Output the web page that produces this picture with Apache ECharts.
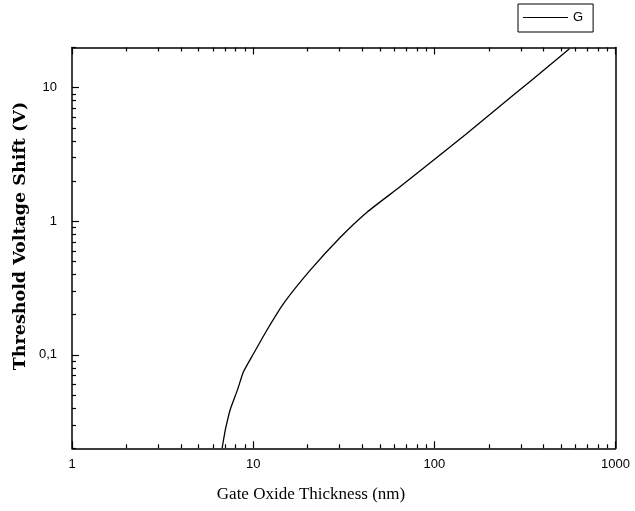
<!DOCTYPE html>
<html>
<head>
<meta charset="utf-8">
<script src="https://cdn.jsdelivr.net/npm/echarts@6/dist/echarts.min.js"></script>
<style>html,body{margin:0;padding:0;background:#fff}#c{width:635px;height:511px}</style>
</head>
<body>
<div id="c"></div>
<script>
// Data (x: gate oxide thickness in nm, y: threshold voltage shift in V)
var thickness = [6.74, 7.0, 7.16, 7.46, 8.2, 8.84, 10.04, 11.9, 14.7, 20.6, 30.3, 42.5, 64.9, 100, 150, 222, 339, 557];
var shift     = [0.0201, 0.027, 0.031, 0.0387, 0.055, 0.0747, 0.102, 0.153, 0.242, 0.429, 0.76, 1.17, 1.82, 2.9, 4.5, 7.0, 11.2, 19.6];
var xMajorTicks = [1, 10, 100, 1000];
var xMinorTicks = [2,3,4,5,6,7,8,9,20,30,40,50,60,70,80,90,200,300,400,500,600,700,800,900];
var yMajorTicks = [0.1, 1, 10];
var yMinorTicks = [0.02,0.03,0.04,0.05,0.06,0.07,0.08,0.09,0.2,0.3,0.4,0.5,0.6,0.7,0.8,0.9,2,3,4,5,6,7,8,9,20];
var seriesName = 'G';
var xTitle = 'Gate Oxide Thickness (nm)';
var yTitle = 'Threshold Voltage Shift (V)';

var points = thickness.map(function (x, i) { return [x, shift[i]]; });
var labelFont = { fontFamily: 'Liberation Sans', fontSize: 13, color: '#000' };

function xAxisDef(pos, ticks, len, showLabel, showLine) {
  return {
    type: 'log', logBase: 10, min: 1, max: 1000, position: pos,
    axisLine: { show: showLine, onZero: false, lineStyle: { color: '#000', width: 1.5 } },
    axisTick: { show: true, inside: true, length: len, customValues: ticks, lineStyle: { color: '#000', width: 1.2 } },
    axisLabel: Object.assign({ show: showLabel, customValues: xMajorTicks, margin: 10,
      formatter: function (v) { return String(v); } }, labelFont),
    splitLine: { show: false }, minorTick: { show: false }
  };
}
function yAxisDef(pos, ticks, len, showLabel, showLine, showTick) {
  return {
    type: 'log', logBase: 10, min: 0.02, max: 20, position: pos,
    axisLine: { show: showLine, onZero: false, lineStyle: { color: '#000', width: 1.5 } },
    axisTick: { show: showTick, inside: true, length: len, customValues: ticks, lineStyle: { color: '#000', width: 1.2 } },
    axisLabel: Object.assign({ show: showLabel, customValues: yMajorTicks, margin: 15,
      formatter: function (v) { return String(v).replace('.', ','); } }, labelFont),
    splitLine: { show: false }, minorTick: { show: false }
  };
}

var chart = echarts.init(document.getElementById('c'), null, { renderer: 'canvas' });
chart.setOption({
  backgroundColor: '#fff',
  animation: false,
  grid: { left: 72, right: 19.5, top: 47.5, bottom: 62.7, containLabel: false },
  xAxis: [
    xAxisDef('bottom', xMajorTicks, 7, true, true),
    xAxisDef('bottom', xMinorTicks, 4, false, false),
    xAxisDef('top', xMajorTicks, 7, false, true),
    xAxisDef('top', xMinorTicks, 4, false, false)
  ],
  yAxis: [
    yAxisDef('left', yMajorTicks, 7, true, true, true),
    yAxisDef('left', yMinorTicks, 4, false, false, true),
    yAxisDef('right', yMajorTicks, 7, false, true, false)
  ],
  legend: {
    show: true, left: 518, top: 4,
    padding: [7, 10, 8, 5], itemGap: 0,
    borderColor: '#000', borderWidth: 1, borderRadius: 0,
    itemWidth: 45, itemHeight: 14,
    textStyle: { fontFamily: 'Liberation Sans', fontSize: 13, color: '#000' },
    data: [{ name: seriesName, icon: 'path://M0,0 L45,0 L45,1 L0,1 Z' }],
    itemStyle: { color: '#000' }
  },
  graphic: [
    { type: 'text', style: { text: xTitle, x: 311, y: 495, align: 'center', verticalAlign: 'middle',
      font: '17px "Liberation Serif"', fill: '#000' } },
    { type: 'text', rotation: Math.PI / 2, x: 20, y: 236,
      style: { text: yTitle, x: 0, y: 0, align: 'center', verticalAlign: 'middle',
        font: 'bold 17.5px "DejaVu Serif"', fill: '#000' } }
  ],
  series: [{
    name: seriesName, type: 'line', xAxisIndex: 0, yAxisIndex: 0,
    data: points, symbol: 'none', smooth: 0.2,
    lineStyle: { color: '#000', width: 1.3 }, itemStyle: { color: '#000' }
  }]
});
</script>
</body>
</html>
